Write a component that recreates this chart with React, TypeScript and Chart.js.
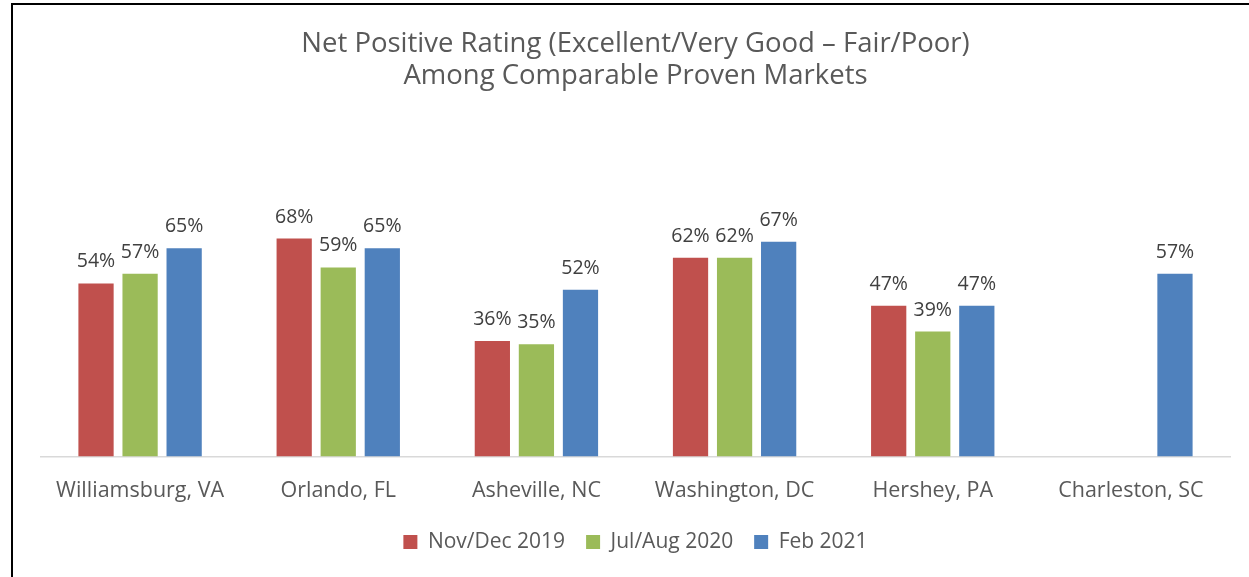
import React, { useEffect, useRef } from "react";
import { Chart, registerables } from "chart.js";

Chart.register(...registerables);

const titleLines = [
  "Net Positive Rating (Excellent/Very Good \u2013 Fair/Poor)",
  "Among Comparable Proven Markets",
];
const categories = [
  "Williamsburg, VA",
  "Orlando, FL",
  "Asheville, NC",
  "Washington, DC",
  "Hershey, PA",
  "Charleston, SC",
];
const seriesNames = ["Nov/Dec 2019", "Jul/Aug 2020", "Feb 2021"];
const novDec2019 = [54, 68, 36, 62, 47, null];
const julAug2020 = [57, 59, 35, 62, 39, null];
const feb2021 = [65, 65, 52, 67, 47, 57];
const seriesColors = ["#C0504D", "#9BBB59", "#4F81BD"];

const FONT = "'Open Sans', sans-serif";

export default function App() {
  const ref = useRef<HTMLCanvasElement | null>(null);

  useEffect(() => {
    document.body.style.margin = "0";
    const canvas = ref.current;
    if (!canvas) return;

    const framePlugin = {
      id: "frame",
      beforeDraw(chart: any) {
        const ctx = chart.ctx;
        ctx.save();
        ctx.fillStyle = "#ffffff";
        ctx.fillRect(0, 0, chart.width, chart.height);
        ctx.fillStyle = "#000000";
        ctx.fillRect(11, 3, chart.width - 11, 2);
        ctx.fillRect(11, 3, 2, chart.height - 3);
        ctx.restore();
      },
    };

    const labelPlugin = {
      id: "valueLabels",
      afterDatasetsDraw(chart: any) {
        const ctx = chart.ctx;
        ctx.save();
        ctx.font = `19.5px ${FONT}`;
        ctx.fillStyle = "#404040";
        ctx.textAlign = "center";
        ctx.textBaseline = "alphabetic";
        chart.data.datasets.forEach((ds: any, di: number) => {
          const meta = chart.getDatasetMeta(di);
          meta.data.forEach((el: any, i: number) => {
            const v = ds.data[i];
            if (v === null || v === undefined) return;
            ctx.fillText(`${v}%`, el.x, el.y - 16);
          });
        });
        ctx.restore();
      },
    };

    const data = [novDec2019, julAug2020, feb2021];

    const chart = new Chart(canvas, {
      type: "bar",
      data: {
        labels: categories,
        datasets: seriesNames.map((name, i) => ({
          label: name,
          data: data[i],
          backgroundColor: seriesColors[i],
          borderWidth: 0,
          categoryPercentage: 0.667,
          barPercentage: 0.8,
        })),
      },
      options: {
        responsive: false,
        animation: false,
        layout: { padding: { left: 41, right: 19, top: 0, bottom: 14.5 } },
        plugins: {
          title: {
            display: true,
            text: titleLines,
            color: "#595959",
            font: { family: FONT, size: 27.5, weight: "normal", lineHeight: 1.182 },
            padding: { top: 27.5, bottom: 43.5 },
          },
          legend: {
            position: "bottom",
            labels: {
              color: "#595959",
              font: { family: FONT, size: 21 },
              boxWidth: 14,
              boxHeight: 14,
              padding: 21,
            },
          },
          tooltip: { enabled: false },
        },
        scales: {
          x: {
            grid: { display: false, drawTicks: false },
            border: { display: true, color: "#D9D9D9", width: 1.5 },
            ticks: {
              color: "#595959",
              font: { family: FONT, size: 21.5 },
              padding: 21,
              maxRotation: 0,
              autoSkip: false,
            },
            afterFit(scale: any) {
              scale.height = 54;
            },
          },
          y: {
            display: false,
            min: 0,
            max: 100,
          },
        },
      },
      plugins: [framePlugin, labelPlugin],
    });

    return () => chart.destroy();
  }, []);

  return (
    <div style={{ width: 1249, height: 577, position: "relative" }}>
      <canvas ref={ref} width={1249} height={577} style={{ display: "block" }} />
    </div>
  );
}
